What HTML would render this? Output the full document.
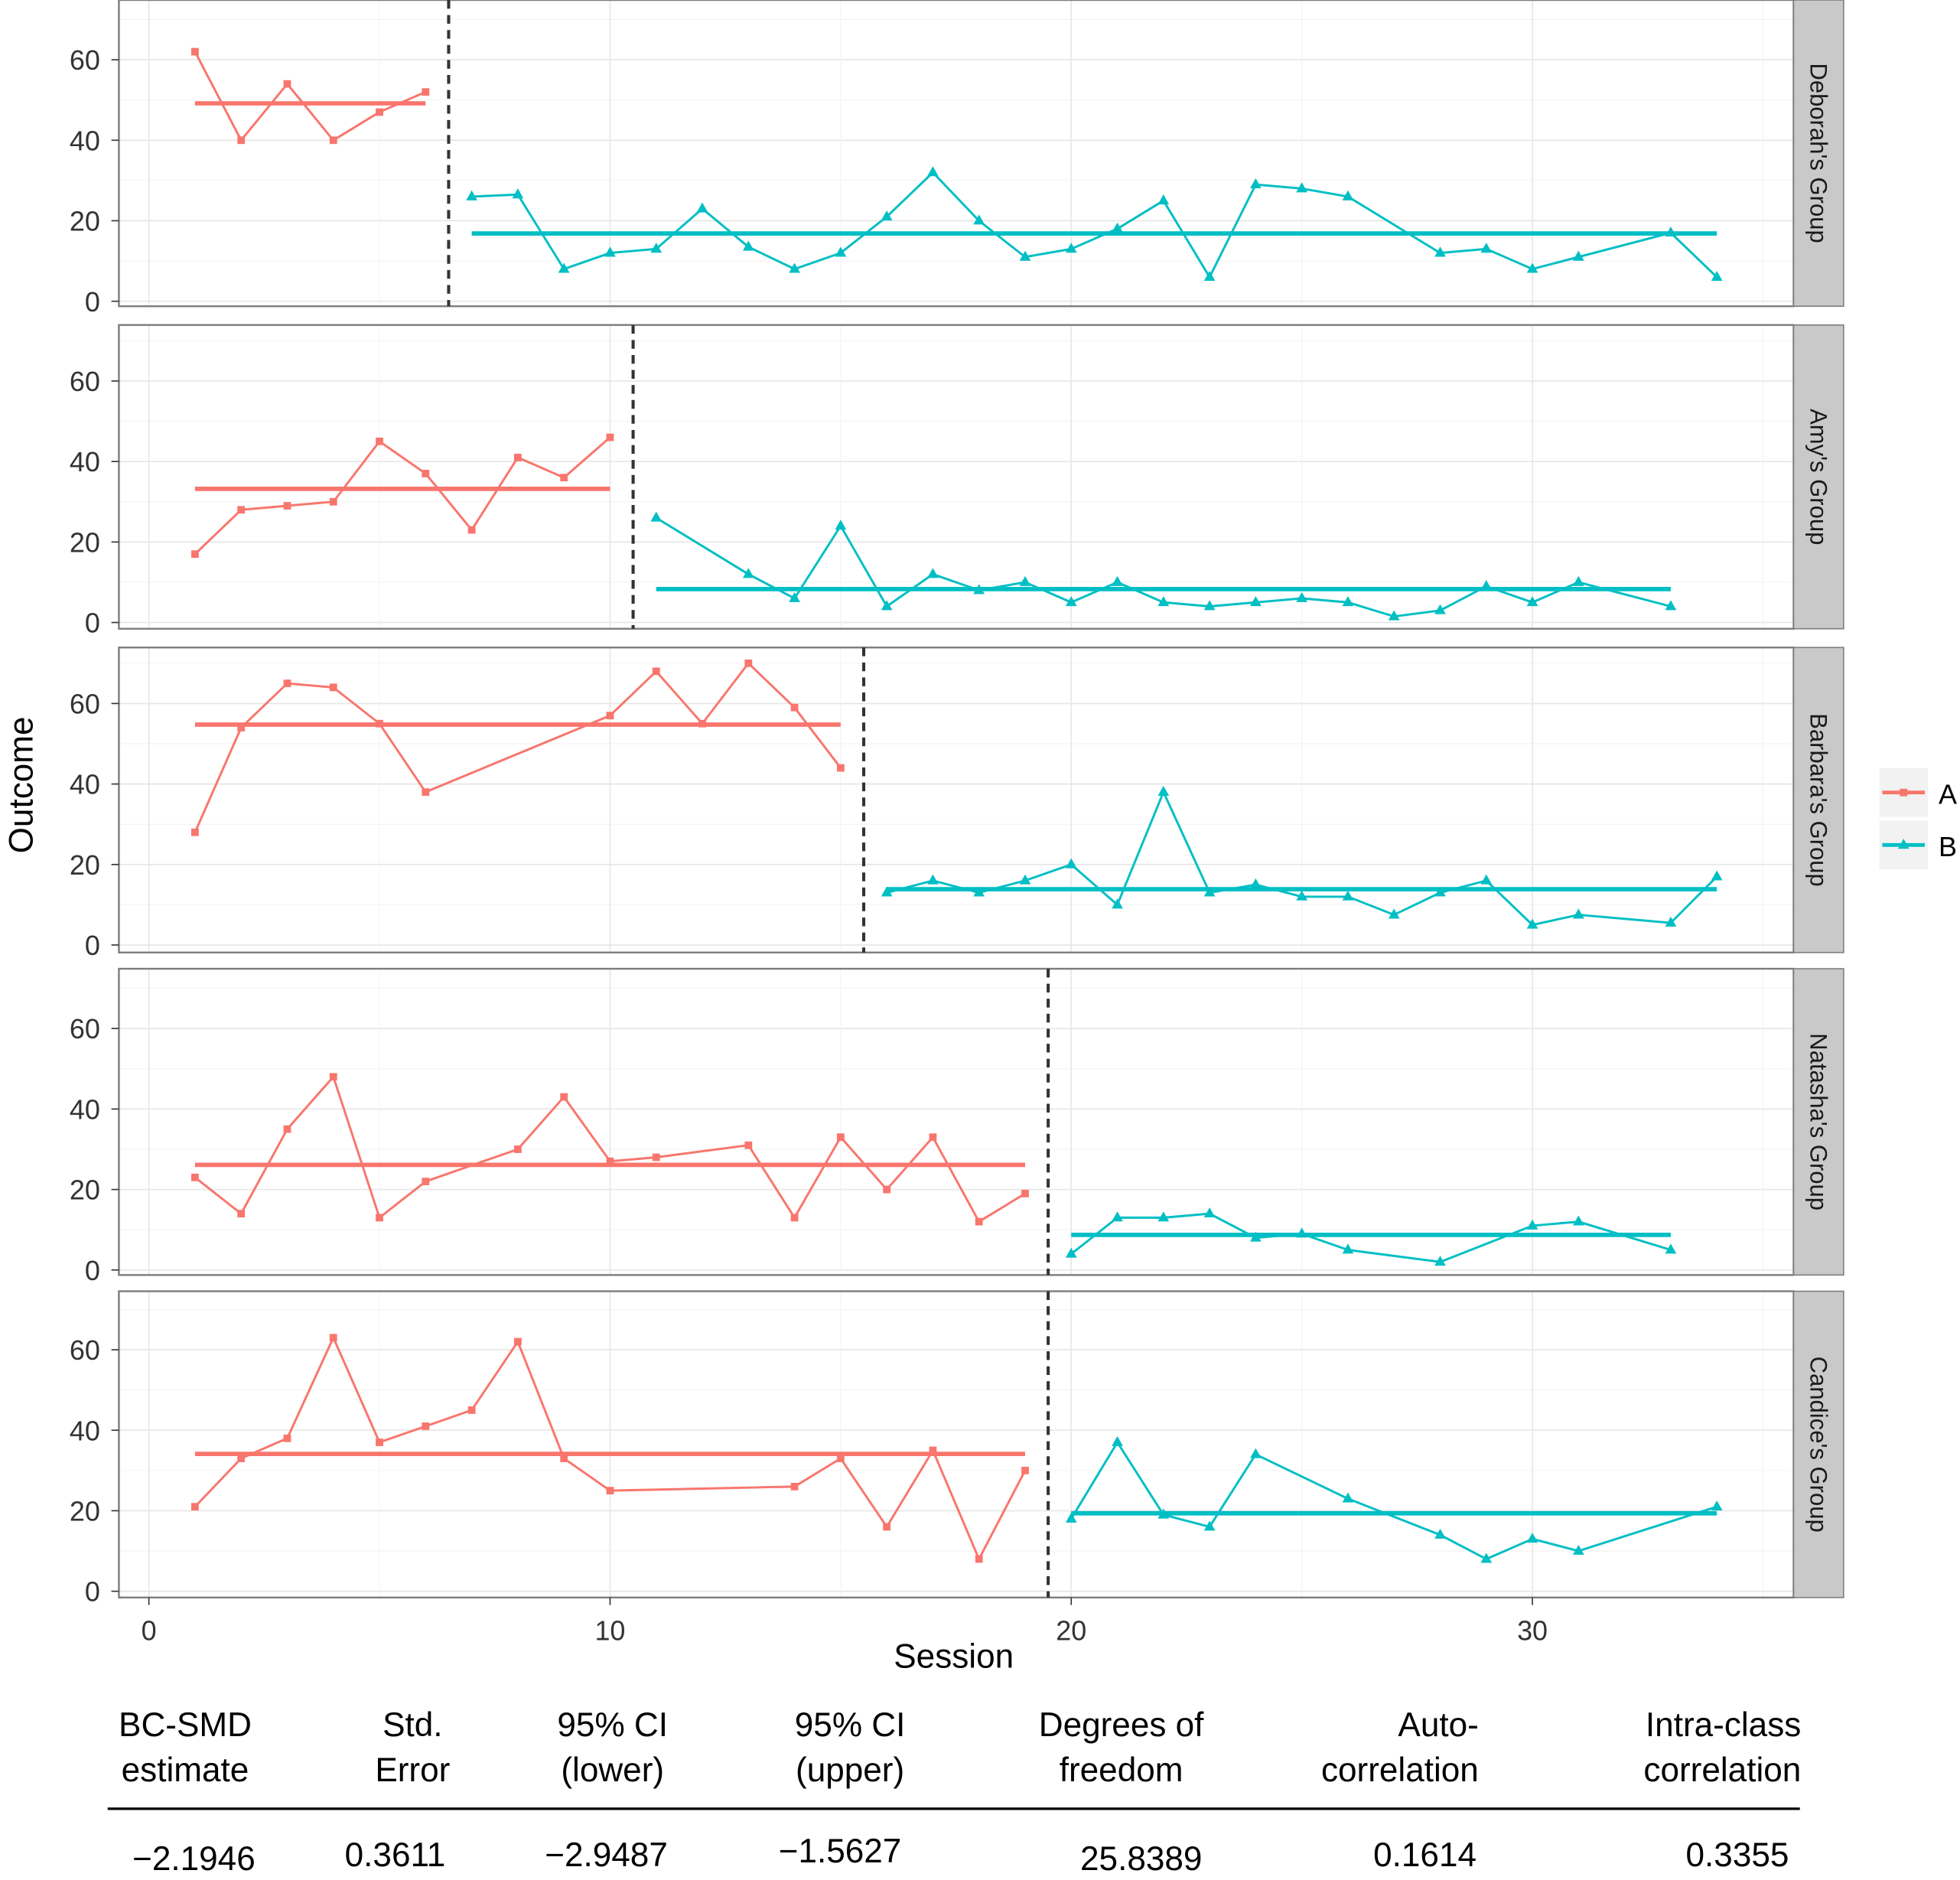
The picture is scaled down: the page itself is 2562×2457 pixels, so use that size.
<!DOCTYPE html>
<html><head><meta charset="utf-8"><style>
html,body{margin:0;padding:0;background:#fff}
svg{display:block;font-family:"Liberation Sans",sans-serif}
</style></head><body>
<svg id="chart" width="2562" height="2457" viewBox="0 0 1568 1504" xmlns="http://www.w3.org/2000/svg"></svg>
<script>
const panelNames = ["Deborah's Group","Amy's Group","Barbara's Group","Natasha's Group","Candice's Group"];
const phaseChange = [6.5,10.5,15.5,19.5,19.5];
const aSessions = [[1,2,3,4,5,6],[1,2,3,4,5,6,7,8,9,10],[1,2,3,4,5,6,10,11,12,13,14,15],[1,2,3,4,5,6,8,9,10,11,13,14,15,16,17,18,19],[1,2,3,4,5,6,7,8,9,10,14,15,16,17,18,19]];
const aValues = [[62,40,54,40,47,52],[17,28,29,30,45,37,23,41,36,46],[28,54,65,64,55,38,57,68,55,70,59,44],[23,14,35,48,13,22,30,43,27,28,31,13,33,20,33,12,19],[21,33,38,63,37,41,45,62,33,25,26,33,16,35,8,30]];
const bSessions = [[7,8,9,10,11,12,13,14,15,16,17,18,19,20,21,22,23,24,25,26,28,29,30,31,33,34],[11,13,14,15,16,17,18,19,20,21,22,23,24,25,26,27,28,29,30,31,33],[16,17,18,19,20,21,22,23,24,25,26,27,28,29,30,31,33,34],[20,21,22,23,24,25,26,28,30,31,33],[20,21,22,23,24,26,28,29,30,31,34]];
const bValues = [[26,26.5,8,12,13,23,13.5,8,12,21,32,20,11,13,18,25,6,29,28,26,12,13,8,11,17,6],[26,12,6,24,4,12,8,10,5,10,5,4,5,6,5,1.5,3,9,5,10,4],[13,16,13,16,20,10,38,13,15,12,12,7.5,13,16,5,7.5,5.5,17],[4,13,13,14,8,9,5,2,11,12,5],[18,37,19,16,34,23,14,8,13,10,21]];
const yTicks = [0,20,40,60];
const xTicks = [0,10,20,30];
const tableHeads = [["BC-SMD","estimate"],["Std.","Error"],["95% CI","(lower)"],["95% CI","(upper)"],["Degrees of","freedom"],["Auto-","correlation"],["Intra-class","correlation"]];
const tableVals = ["\u22122.1946","0.3611","\u22122.9487","\u22121.5627","25.8389","0.1614","0.3355"];

const NS="http://www.w3.org/2000/svg";
const svg=document.getElementById('chart');
function mk(tag,attrs,parent){const e=document.createElementNS(NS,tag);for(const k in attrs)e.setAttribute(k,attrs[k]);(parent||svg).appendChild(e);return e;}
const RED="#f8766d", TEAL="#00bfc4";
const plotL=95, plotR=1435, stripR=1475;
const panelTop=[0,260,518,775,1033], panelBot=[245,503,762,1020,1278];
const zeroY=[241,498,756,1016,1273];
const yScale=3.22;
const X=v=>119+v*36.9;
panelNames.forEach((name,p)=>{
  const Y=v=>zeroY[p]-v*yScale;
  const g=mk('g',{});
  
  
  mk('rect',{x:plotL,y:panelTop[p],width:plotR-plotL,height:panelBot[p]-panelTop[p],fill:'#fff'},g);
  for(let v=0;v<=70;v+=10){const y=Y(v);if(y<panelTop[p])continue;mk('line',{x1:plotL,x2:plotR,y1:y,y2:y,stroke:v%20==0?'#e6e6e6':'#f2f2f2','stroke-width':v%20==0?1:0.6},g);}
  for(let v=0;v<=35;v+=5){const x=X(v);mk('line',{x1:x,x2:x,y1:panelTop[p],y2:panelBot[p],stroke:v%10==0?'#e6e6e6':'#f2f2f2','stroke-width':v%10==0?1:0.6},g);}
  mk('rect',{x:plotL,y:panelTop[p],width:plotR-plotL,height:panelBot[p]-panelTop[p],fill:'none',stroke:'#7f7f7f','stroke-width':1.5},g);
  const s=mk('rect',{x:plotR,y:panelTop[p],width:stripR-plotR,height:panelBot[p]-panelTop[p],fill:'#c9c9c9',stroke:'#7f7f7f','stroke-width':1},g);
  
  
  const cy=(panelTop[p]+panelBot[p])/2;
  const st=mk('text',{x:1455,y:cy,'font-size':19,'text-anchor':'middle','dominant-baseline':'central',transform:`rotate(90 1455 ${cy})`,fill:'#1a1a1a'},g);
  st.textContent=name;
  
  
  yTicks.forEach(t=>{const y=Y(t);mk('line',{x1:89,x2:95,y1:y,y2:y,stroke:'#333'},g);
    const tx=mk('text',{x:80,y:y+8,'font-size':22,'text-anchor':'end',fill:'#333'},g);tx.textContent=t;
    });
  const px=X(phaseChange[p]);
  const pl=mk('line',{x1:px,x2:px,y1:panelTop[p],y2:panelBot[p],stroke:'#333','stroke-width':2.5,'stroke-dasharray':'7,5'},g);
  
  [[aSessions[p],aValues[p],RED,'a'],[bSessions[p],bValues[p],TEAL,'b']].forEach(([xs,ys,col,k])=>{
    const mean=ys.reduce((a,b)=>a+b,0)/ys.length;
    const ml=mk('line',{x1:X(xs[0]),x2:X(xs[xs.length-1]),y1:Y(mean),y2:Y(mean),stroke:col,'stroke-width':3.5},g);
    
    const pts=xs.map((x,i)=>X(x)+','+Y(ys[i])).join(' ');
    const line=mk('polyline',{points:pts,fill:'none',stroke:col,'stroke-width':1.8},g);
    
    xs.forEach((x,i)=>{
      let m;
      if(k==='a'){m=mk('rect',{x:X(x)-3,y:Y(ys[i])-3,width:6,height:6,fill:col},g);}
      else{const cx=X(x),cy2=Y(ys[i]);m=mk('polygon',{points:`${cx},${cy2-5} ${cx-4.5},${cy2+3} ${cx+4.5},${cy2+3}`,fill:col},g);}
      
    });
  });
});
xTicks.forEach(t=>{const x=X(t);mk('line',{x1:x,x2:x,y1:1278,y2:1284,stroke:'#333'});
  const tx=mk('text',{x:x,y:1312,'font-size':22,'text-anchor':'middle',fill:'#333'});tx.textContent=t;
  });
let t=mk('text',{x:763,y:1334,'font-size':27,'text-anchor':'middle',fill:'#000'});t.textContent='Session';

t=mk('text',{x:26,y:628,'font-size':27,'text-anchor':'middle',fill:'#000',transform:'rotate(-90 26 628)'});t.textContent='Outcome';

const lg=mk('g',{});
mk('rect',{x:1503,y:614,width:40,height:40,fill:'#f2f2f2',stroke:'#fff'},lg);
mk('rect',{x:1503,y:656,width:40,height:40,fill:'#f2f2f2',stroke:'#fff'},lg);
mk('line',{x1:1506,x2:1540,y1:634,y2:634,stroke:RED,'stroke-width':3},lg);
mk('rect',{x:1520,y:631,width:6,height:6,fill:RED},lg);
mk('line',{x1:1506,x2:1540,y1:676,y2:676,stroke:TEAL,'stroke-width':3},lg);
mk('polygon',{points:'1523,671 1518.5,679 1527.5,679',fill:TEAL},lg);
t=mk('text',{x:1551,y:643,'font-size':22,fill:'#000'},lg);t.textContent='A';
t=mk('text',{x:1551,y:685,'font-size':22,fill:'#000'},lg);t.textContent='B';
const anchors=['middle','middle','middle','middle','middle','end','end'];
const colXa=[148,330,490,680,897,1183,1441];
const valX=[155,316,485,672,913,1140,1390];
const valY=[1496,1493,1493,1490,1496,1493,1493];
tableHeads.forEach((h,i)=>{
  [0,1].forEach(j=>{const tx=mk('text',{x:colXa[i],y:1389+j*36,'font-size':27,'text-anchor':anchors[i],fill:'#000'});tx.textContent=h[j];
    });
  const vx=mk('text',{x:valX[i],y:valY[i],'font-size':27,'text-anchor':'middle',fill:'#000'});vx.textContent=tableVals[i];
  
});
const rl=mk('line',{x1:86,x2:1440,y1:1447,y2:1447,stroke:'#000','stroke-width':2});

</script>
</body></html>
